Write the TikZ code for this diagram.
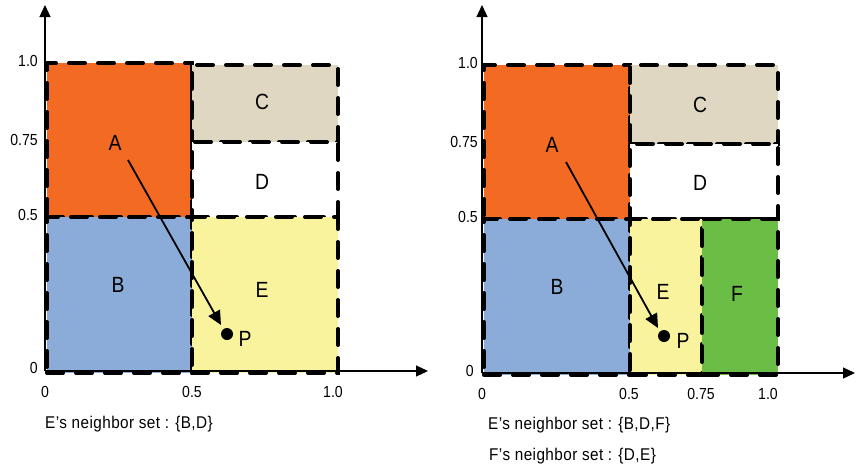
\documentclass[tikz,border=0pt]{standalone}
\usepackage{fontspec}
\setmainfont{Liberation Sans}
\newfontfamily\condfont[FakeStretch=0.88]{Liberation Sans}
\newfontfamily\notefont[FakeStretch=0.9,LetterSpace=2.5]{Liberation Sans}
\usetikzlibrary{arrows.meta}
\definecolor{cOrange}{HTML}{F36A22}
\definecolor{cTan}{HTML}{DFD7C2}
\definecolor{cBlue}{HTML}{8BACD9}
\definecolor{cYellow}{HTML}{F8F39C}
\definecolor{cGreen}{HTML}{6ABD45}
\tikzset{
  region/.style={draw=black, line width=4pt, line cap=round, dash pattern=on 16pt off 13pt, inner sep=0pt, anchor=north west},
  axis/.style={line width=1.2pt, -{Triangle[length=12pt,width=11pt]}},
  move/.style={line width=1.8pt, -{Triangle[length=14pt,width=13pt]}},
  tick/.style={font=\condfont\fontsize{16}{18}\selectfont, inner sep=0pt},
  note/.style={font=\notefont\fontsize{17}{19}\selectfont, inner sep=0pt, anchor=west},
  lab/.style={font=\condfont\fontsize{22}{26}\selectfont, inner sep=0pt},
  pdot/.style={circle, fill=black, minimum size=12pt, inner sep=0pt}
}
\begin{document}
\begin{tikzpicture}[x=1pt,y=-1pt]
\useasboundingbox (0,0) rectangle (856,471);
% ---------- left panel ----------
\coordinate (LO) at (45,371);
\coordinate (LX) at (428,371);
\coordinate (LY) at (45,5);
\node[region, fill=cOrange, minimum width=145pt, minimum height=154pt] (lA) at (45,61) {};
\node[region, fill=cTan, minimum width=146pt, minimum height=77pt] (lC) at (190,63) {};
\node[region, fill=white, minimum width=146pt, minimum height=75pt] (lD) at (190,140) {};
\node[region, fill=cBlue, minimum width=145pt, minimum height=156pt] (lB) at (45,215) {};
\node[region, fill=cYellow, minimum width=146pt, minimum height=156pt] (lE) at (190,215) {};
\draw[axis] (LO) -- (LX);
\draw[axis] (LO) -- (LY);
\node[lab] (lAt) at (115,143) {A};
\node[lab] (lCt) at (262,102) {C};
\node[lab] (lDt) at (262,182) {D};
\node[lab] (lBt) at (118,285) {B};
\node[lab] (lEt) at (262,290) {E};
\node[lab] (lPt) at (245,339) {P};
\node[pdot] (lP) at (227,334) {};
\coordinate (lS) at (128,160);
\coordinate (lT) at (221,325);
\draw[move] (lS) -- (lT);
\node[tick, anchor=east] (ly1) at (38,61) {1.0};
\node[tick, anchor=east] (ly2) at (38,140) {0.75};
\node[tick, anchor=east] (ly3) at (38,215) {0.5};
\node[tick, anchor=east] (ly4) at (38,368) {0};
\node[tick] (lx1) at (45,392) {0};
\node[tick] (lx2) at (192,392) {0.5};
\node[tick] (lx3) at (333,392) {1.0};
\node[note] (ln1) at (45,424) {E’s neighbor set : \{B,D\}};
% ---------- right panel ----------
\coordinate (RO) at (482,373);
\coordinate (RX) at (855,373);
\coordinate (RY) at (482,5);
\node[region, fill=cOrange, minimum width=146pt, minimum height=154pt] (rA) at (482,63) {};
\node[region, fill=cTan, minimum width=148pt, minimum height=79pt] (rC) at (628,63) {};
\node[region, fill=white, minimum width=148pt, minimum height=75pt] (rD) at (628,142) {};
\node[region, fill=cBlue, minimum width=146pt, minimum height=156pt] (rB) at (482,217) {};
\node[region, fill=cYellow, minimum width=72pt, minimum height=156pt] (rE) at (628,217) {};
\node[region, fill=cGreen, minimum width=76pt, minimum height=156pt] (rF) at (700,217) {};
\draw[axis] (RO) -- (RX);
\draw[axis] (RO) -- (RY);
\node[lab] (rAt) at (552,145) {A};
\node[lab] (rCt) at (700,105) {C};
\node[lab] (rDt) at (700,183) {D};
\node[lab] (rBt) at (557,287) {B};
\node[lab] (rEt) at (663,292) {E};
\node[lab] (rFt) at (737,294) {F};
\node[lab] (rPt) at (683,341) {P};
\node[pdot] (rP) at (664,336) {};
\coordinate (rS) at (566,162);
\coordinate (rT) at (658,328);
\draw[move] (rS) -- (rT);
\node[tick, anchor=east] (ry1) at (478,63) {1.0};
\node[tick, anchor=east] (ry2) at (478,142) {0.75};
\node[tick, anchor=east] (ry3) at (478,217) {0.5};
\node[tick, anchor=east] (ry4) at (474,371) {0};
\node[tick] (rx1) at (482,394) {0};
\node[tick] (rx2) at (629,394) {0.5};
\node[tick] (rx3) at (701,394) {0.75};
\node[tick] (rx4) at (768,394) {1.0};
\node[note] (rn1) at (488,425) {E’s neighbor set : \{B,D,F\}};
\node[note] (rn2) at (489,456) {F’s neighbor set : \{D,E\}};
\end{tikzpicture}
\end{document}
